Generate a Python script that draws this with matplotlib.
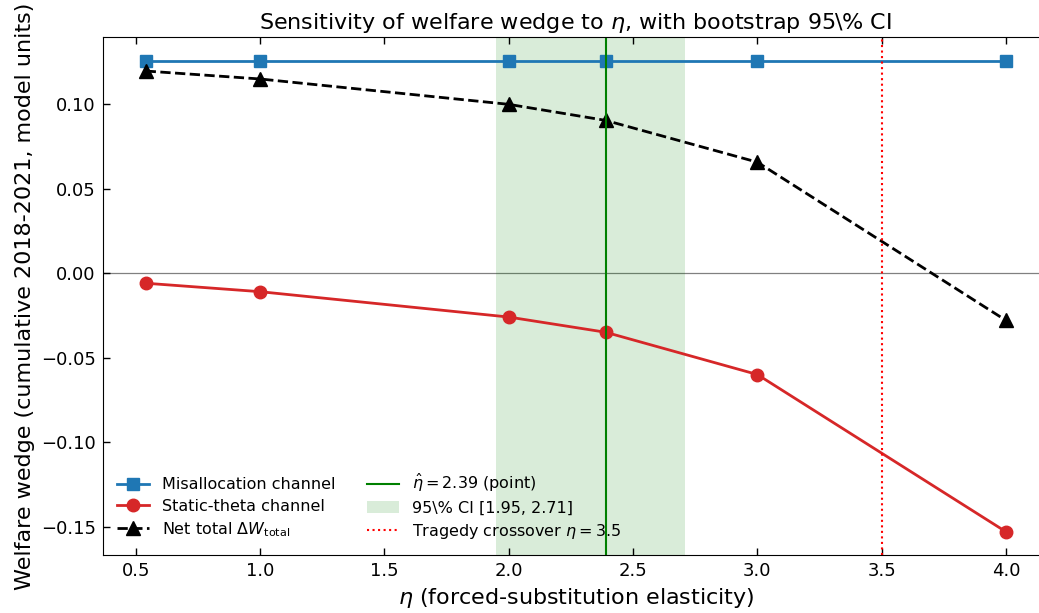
import numpy as np
import matplotlib as mpl
mpl.use('Agg')
import matplotlib.pyplot as plt

# eta grid and channel values
eta = [0.54, 1.0, 2.0, 2.39, 3.0, 4.0]
misallocation = [0.1255, 0.1255, 0.1255, 0.1255, 0.1255, 0.1255]
static_theta = [-0.006, -0.011, -0.026, -0.035, -0.060, -0.153]
net_total = [0.1195, 0.1148, 0.0998, 0.0903, 0.0656, -0.028]

eta_hat = 2.39
ci_lo, ci_hi = 1.95, 2.71
eta_cross = 3.5


def plot_sensitivity():

    fig = plt.figure(figsize=(10.39, 6.13), dpi=100)
    # axes runs slightly past the right edge of the canvas, as in the original crop
    ax = fig.add_axes([0.0988, 0.0941, 0.9108, 0.845])
    ax.spines['right'].set_visible(False)

    ax.axhline(0, color='gray', lw=0.9, zorder=1)

    l1, = ax.plot(eta, misallocation, color='#1f77b4', lw=2, marker='s', ms=9, label='Misallocation channel')
    l2, = ax.plot(eta, static_theta, color='#d62728', lw=2, marker='o', ms=9, label='Static-theta channel')
    l3, = ax.plot(eta, net_total, color='black', lw=2, ls='--', marker='^', ms=10, label=r'Net total $\Delta W_{\rm total}$')

    l4 = ax.axvline(eta_hat, color='green', lw=1.5, label=r'$\hat{\eta} = 2.39$ (point)')
    p5 = ax.axvspan(ci_lo, ci_hi, color='green', alpha=0.15, lw=0, label=r'95\% CI [1.95, 2.71]')
    l6 = ax.axvline(eta_cross, color='red', lw=1.5, ls=':', label=r'Tragedy crossover $\eta = 3.5$')

    ax.set_xticks([0.5, 1.0, 1.5, 2.0, 2.5, 3.0, 3.5, 4.0])
    ax.set_yticks([-0.15, -0.10, -0.05, 0.00, 0.05, 0.10])
    ax.tick_params(direction='in', top=True, right=False, length=5, width=1, pad=5, labelsize=13)

    ax.set_xlabel(r'$\eta$ (forced-substitution elasticity)', fontsize=16)
    ax.set_ylabel('Welfare wedge (cumulative 2018-2021, model units)', fontsize=16)
    ax.set_title(r'Sensitivity of welfare wedge to $\eta$, with bootstrap 95\% CI', fontsize=16)

    ax.legend(handles=[l1, l2, l3, l4, p5, l6], ncol=2, loc='lower left', frameon=False, fontsize=11.5,
              labelspacing=0.4)

    plt.savefig('out.png', dpi=100)
    plt.close()


if __name__ == '__main__':
    plot_sensitivity()
